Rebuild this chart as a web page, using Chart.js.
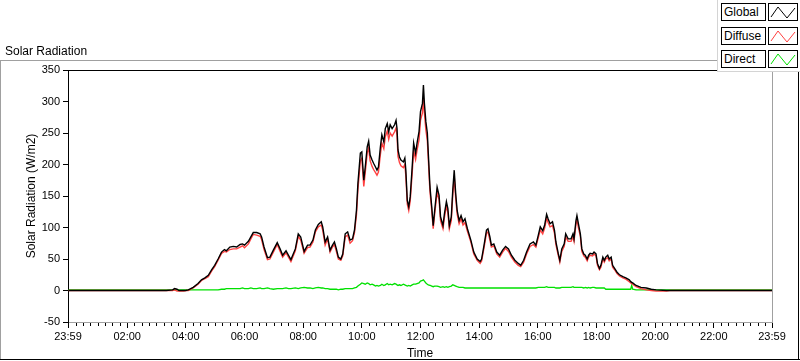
<!DOCTYPE html>
<html lang="en">
<head>
    <meta charset="UTF-8">
    <title>Solar Radiation</title>
    <style>
        body {
            margin: 0;
            background: #fff;
            font-family: 'Liberation Sans', Arial, sans-serif;
        }
        #panel {
            position: relative;
            width: 800px;
            height: 361px;
            overflow: hidden;
        }
        #panel canvas {
            position: absolute;
            left: 0;
            top: 0;
        }
        .line {
            position: absolute;
        }
        #title {
            position: absolute;
            left: 5px;
            top: 44px;
            font-size: 12px;
            color: #000;
        }
        #legend {
            position: absolute;
            left: 717px;
            top: 0;
            width: 83px;
            height: 71px;
            background: #fff;
            border-left: 1px solid #d4d4d4;
            border-bottom: 1px solid #d4d4d4;
        }
        .lbl {
            position: absolute;
            left: 3px;
            width: 41px;
            height: 16px;
            border: 1px solid #000;
            font-size: 12px;
            line-height: 16px;
            padding-left: 2px;
            box-sizing: content-box;
        }
        .sw {
            position: absolute;
            left: 50px;
            width: 28px;
            height: 16px;
            border: 1px solid #000;
        }
    </style>
    <script src="https://cdn.jsdelivr.net/npm/chart.js"></script>
</head>
<body>
<div id="panel">
    <canvas id="solarChart" width="800" height="361"></canvas>
    <div id="title">Solar Radiation</div>
    <div class="line" style="left:0;top:60px;width:717px;height:1px;background:#a0a0a0"></div>
    <div class="line" style="left:0;top:60px;width:1px;height:300px;background:#a0a0a0"></div>
    <div class="line" style="left:0;top:359px;width:800px;height:1px;background:#000"></div>
    <div class="line" style="left:798px;top:72px;width:1px;height:288px;background:#000"></div>
    <div id="legend"></div>
</div>

<script>
    // minutes since midnight (x axis runs 23:59 -> 23:59)
    const times = [
        0, 200, 213, 217, 222, 226, 236, 240, 245, 255, 265, 272, 279, 286, 293, 299,
        306, 313, 319, 323, 330, 337, 344, 351, 356, 360, 368, 373, 378, 385, 392, 395,
        400, 407, 412, 419, 427, 433, 438, 445, 450, 455, 464, 470, 475, 482, 489, 494,
        500, 505, 511, 517, 520, 525, 530, 535, 540, 544, 548, 552, 557, 561, 566, 571,
        576, 581, 585, 589, 592, 597, 600, 604, 607, 611, 614, 617, 621, 624, 628, 631,
        634, 638, 641, 645, 648, 652, 655, 658, 662, 667, 670, 672, 674, 677, 680, 685,
        688, 690, 693, 696, 699, 703, 706, 710, 713, 717, 720, 724, 726, 728, 731, 734,
        736, 739, 740, 743, 746, 749, 754, 758, 761, 766, 769, 773, 776, 779, 783, 786,
        789, 792, 795, 799, 803, 807, 811, 816, 823, 829, 836, 842, 845, 850, 855, 858,
        862, 865, 870, 876, 882, 888, 894, 900, 906, 913, 920, 925, 931, 937, 944, 951,
        956, 961, 965, 970, 974, 978, 981, 985, 990, 994, 997, 1002, 1005, 1009, 1014, 1017,
        1022, 1028, 1032, 1034, 1038, 1040, 1043, 1047, 1050, 1054, 1057, 1061, 1064, 1067, 1072, 1075,
        1079, 1082, 1086, 1089, 1093, 1096, 1099, 1103, 1106, 1110, 1113, 1117, 1122, 1127, 1134, 1140,
        1147, 1150, 1152, 1154, 1161, 1171, 1182, 1192, 1202, 1223, 1230, 1439
    ];
    const globalRad = [
        0, 0, 1, 3, 2, 0, 0, 0, 1, 5, 11, 17, 20, 24, 33, 40,
        50, 61, 65, 63, 69, 70, 69, 73, 74, 72, 78, 85, 92, 92, 90, 85,
        69, 52, 53, 64, 76, 66, 56, 63, 56, 49, 66, 90, 85, 62, 72, 72,
        80, 96, 105, 109, 101, 77, 85, 64, 72, 77, 66, 53, 50, 58, 90, 93,
        80, 82, 96, 127, 170, 218, 220, 175, 196, 228, 237, 215, 207, 202, 196, 191,
        196, 228, 247, 236, 257, 265, 252, 263, 257, 263, 270, 257, 223, 212, 207, 204,
        210, 191, 143, 133, 149, 196, 234, 218, 234, 252, 284, 297, 326, 297, 268, 250,
        218, 170, 159, 133, 103, 127, 164, 151, 117, 103, 122, 141, 130, 103, 117, 159,
        191, 154, 127, 111, 119, 109, 114, 98, 80, 61, 50, 46, 50, 72, 96, 98,
        85, 72, 74, 61, 56, 64, 70, 66, 56, 48, 43, 40, 48, 61, 74, 77,
        72, 88, 101, 95, 104, 121, 114, 106, 109, 96, 77, 58, 48, 66, 74, 90,
        82, 82, 90, 82, 111, 119, 106, 90, 66, 58, 56, 50, 56, 59, 58, 61,
        58, 43, 35, 40, 53, 48, 53, 56, 50, 53, 40, 35, 29, 25, 22, 20,
        17, 14, 13, 12, 8, 5, 4, 2, 1, 0, 0, 0
    ];
    const diffuseRad = [
        0, 0, 0, 1, -1, -1, -1, 0, 0, 4, 10, 16, 19, 22, 31, 38,
        48, 59, 62, 61, 65, 66, 66, 69, 71, 68, 74, 82, 89, 88, 86, 81,
        65, 49, 50, 61, 73, 62, 53, 60, 53, 46, 63, 86, 80, 59, 68, 69,
        77, 93, 101, 104, 96, 72, 82, 61, 69, 73, 62, 50, 48, 55, 85, 88,
        75, 79, 92, 120, 160, 206, 210, 165, 187, 218, 226, 206, 197, 192, 187, 183,
        188, 216, 234, 225, 244, 253, 240, 250, 245, 252, 258, 246, 213, 203, 198, 195,
        200, 182, 137, 127, 142, 186, 222, 208, 223, 239, 270, 282, 305, 282, 255, 238,
        208, 162, 152, 127, 98, 121, 156, 144, 111, 98, 116, 134, 124, 98, 111, 151,
        181, 147, 121, 106, 114, 104, 108, 94, 77, 58, 48, 43, 47, 68, 91, 93,
        80, 69, 71, 58, 53, 61, 67, 62, 53, 45, 40, 38, 45, 58, 70, 73,
        69, 84, 96, 90, 99, 115, 108, 101, 103, 91, 73, 55, 45, 62, 70, 85,
        78, 78, 85, 78, 105, 113, 100, 86, 62, 55, 53, 47, 53, 56, 55, 58,
        55, 40, 33, 37, 50, 45, 50, 52, 47, 50, 37, 33, 27, 23, 20, 18,
        14, 12, 11, 10, 6, 3, 1, 0, -1, -1, 0, 0
    ];
    const directRad = [
        1, 1, 1, 1, 1, 1, 1, 1, 1, 1, 1, 1, 1, 1, 1, 1,
        1, 2, 2, 3, 3, 3, 3, 3, 4, 3, 3, 4, 3, 3, 4, 3,
        3, 4, 3, 2, 3, 3, 3, 4, 3, 3, 4, 3, 4, 5, 4, 4,
        3, 4, 5, 4, 4, 3, 3, 2, 2, 2, 2, 1, 2, 2, 3, 3,
        3, 3, 4, 5, 7, 10, 12, 11, 10, 12, 11, 9, 10, 9, 7, 8,
        7, 8, 10, 8, 9, 11, 9, 10, 9, 11, 10, 9, 8, 9, 8, 10,
        9, 8, 7, 8, 7, 9, 10, 10, 11, 12, 15, 16, 17, 15, 12, 10,
        9, 8, 8, 7, 6, 7, 7, 6, 5, 6, 5, 6, 5, 6, 7, 9,
        8, 7, 6, 5, 5, 5, 4, 4, 4, 4, 4, 4, 4, 4, 4, 4,
        4, 4, 4, 4, 4, 4, 4, 4, 4, 4, 4, 4, 4, 4, 4, 4,
        4, 5, 5, 5, 5, 6, 5, 5, 5, 5, 4, 4, 4, 5, 5, 5,
        5, 5, 6, 5, 5, 5, 5, 5, 5, 4, 5, 4, 5, 4, 5, 5,
        4, 4, 4, 4, 4, 4, 2, 2, 2, 2, 2, 2, 2, 2, 2, 2,
        2, 2, 8, 2, 1, 1, 1, 1, 1, 1, 1, 1
    ];

    const xTickValues = [-1, 120, 240, 360, 480, 600, 720, 840, 960, 1080, 1200, 1320, 1439];
    const xTickLabels = ['23:59', '02:00', '04:00', '06:00', '08:00', '10:00', '12:00',
                         '14:00', '16:00', '18:00', '20:00', '22:00', '23:59'];

    const seriesNames = ['Global', 'Diffuse', 'Direct'];
    const seriesColors = ['#000000', '#ff4040', '#00e000'];

    function toPoints(values) {
        return values.map((v, i) => ({ x: times[i], y: v }));
    }

    // short 15 minute ticks between the labelled ones
    const minorTicks = {
        id: 'minorTicks',
        afterDraw(chart) {
            const xs = chart.scales.x;
            const ctx = chart.ctx;
            const y0 = chart.chartArea.bottom;
            ctx.save();
            ctx.strokeStyle = '#000';
            ctx.lineWidth = 1;
            ctx.beginPath();
            for (let m = 15; m < 1440; m += 15) {
                if (m % 120 === 0) continue;
                const px = Math.round(xs.getPixelForValue(m)) + 0.5;
                ctx.moveTo(px, y0 + 1);
                ctx.lineTo(px, y0 + 4);
            }
            ctx.stroke();
            ctx.restore();
        }
    };

    // top (black) and right (grey) edges of the plot area
    const plotFrame = {
        id: 'plotFrame',
        afterDraw(chart) {
            const { left, right, top, bottom } = chart.chartArea;
            const ctx = chart.ctx;
            ctx.save();
            ctx.lineWidth = 1;
            ctx.strokeStyle = '#000';
            ctx.beginPath();
            ctx.moveTo(left, Math.round(top) + 0.5);
            ctx.lineTo(right, Math.round(top) + 0.5);
            ctx.stroke();
            ctx.strokeStyle = '#a0a0a0';
            ctx.beginPath();
            ctx.moveTo(Math.round(right) + 0.5, top);
            ctx.lineTo(Math.round(right) + 0.5, bottom);
            ctx.stroke();
            ctx.restore();
        }
    };

    Chart.defaults.font.family = "'Liberation Sans', Arial, sans-serif";
    Chart.defaults.font.size = 11;
    Chart.defaults.color = '#000';

    const datasetValues = [globalRad, diffuseRad, directRad];

    new Chart(document.getElementById('solarChart'), {
        type: 'line',
        data: {
            datasets: seriesNames.map((name, i) => ({
                label: name,
                data: toPoints(datasetValues[i]),
                borderColor: seriesColors[i],
                borderWidth: i === 2 ? 1.3 : 1.4,
                pointRadius: 0,
                tension: 0,
                fill: false
            }))
        },
        options: {
            responsive: false,
            animation: false,
            layout: { padding: { top: 70, right: 28, left: 0, bottom: 0 } },
            plugins: {
                legend: { display: false },
                tooltip: { enabled: false }
            },
            scales: {
                x: {
                    type: 'linear',
                    min: -1,
                    max: 1439,
                    afterBuildTicks: (scale) => {
                        scale.ticks = xTickValues.map(v => ({ value: v }));
                    },
                    afterFit: (scale) => { scale.height = 39; },
                    ticks: {
                        autoSkip: false,
                        maxRotation: 0,
                        padding: 2,
                        callback: (value, index) => xTickLabels[index]
                    },
                    grid: {
                        drawOnChartArea: false,
                        tickLength: 6,
                        tickColor: '#000'
                    },
                    border: { color: '#a0a0a0', width: 1 },
                    title: {
                        display: true,
                        text: 'Time',
                        font: { size: 12 },
                        padding: { top: 0, bottom: 0 }
                    }
                },
                y: {
                    min: -50,
                    max: 350,
                    afterFit: (scale) => { scale.width = 68; },
                    ticks: { stepSize: 50, padding: 3 },
                    grid: {
                        drawOnChartArea: false,
                        tickLength: 5,
                        tickColor: '#000'
                    },
                    border: { color: '#000', width: 1 },
                    title: {
                        display: true,
                        text: 'Solar Radiation (W/m2)',
                        font: { size: 12 },
                        padding: { top: 24, bottom: 0 }
                    }
                }
            }
        },
        plugins: [minorTicks, plotFrame]
    });

    // legend: label boxes with a small zig-zag swatch
    const legend = document.getElementById('legend');
    const rowTops = [3, 27, 50];
    seriesNames.forEach((name, i) => {
        const lbl = document.createElement('div');
        lbl.className = 'lbl';
        lbl.style.top = rowTops[i] + 'px';
        lbl.textContent = name;
        legend.appendChild(lbl);
        const sw = document.createElement('div');
        sw.className = 'sw';
        sw.style.top = rowTops[i] + 'px';
        sw.innerHTML = '<svg width="28" height="16"><polyline points="2,13 9,3 18,14 26,4" ' +
            'fill="none" stroke="' + seriesColors[i] + '" stroke-width="1"/></svg>';
        legend.appendChild(sw);
    });
</script>
</body>
</html>
